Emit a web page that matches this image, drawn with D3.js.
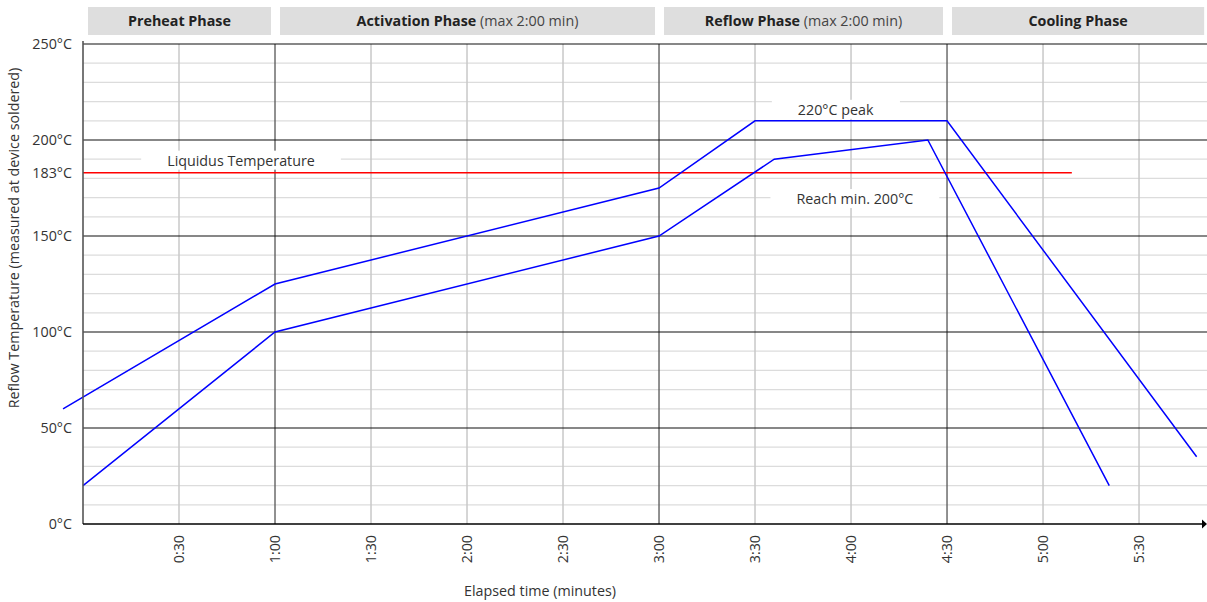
<!DOCTYPE html>
<html>
<head>
<meta charset="utf-8">
<script src="https://cdn.jsdelivr.net/npm/d3@7"></script>
<style>
  html, body { margin: 0; padding: 0; background: #fff; }
  svg { display: block; font-family: "Open Sans", "Noto Sans", sans-serif; }
</style>
</head>
<body>
<svg id="chart" width="1207" height="602"></svg>
<script>
// ---- data (time in minutes, temperature in °C) ----
const upperTimes = [-0.104, 1, 3, 3.5, 4.5, 5.8];
const upperTemps = [60, 125, 175, 210, 210, 35];
const lowerTimes = [0, 1, 3, 3.6, 4.4, 5.345];
const lowerTemps = [20, 100, 150, 190, 200, 20];

const liquidusTemp = 183;
const liquidusEnd = 5.15;

const phaseNames = ["Preheat Phase", "Activation Phase", "Reflow Phase", "Cooling Phase"];
const phaseNotes = ["", " (max 2:00 min)", " (max 2:00 min)", ""];
const phaseStarts = [0, 1, 3, 4.5];
const phaseEnds = [1, 3, 4.5, 5.86];

const xTickValues = [0.5, 1, 1.5, 2, 2.5, 3, 3.5, 4, 4.5, 5, 5.5];
const xTickLabels = ["0:30", "1:00", "1:30", "2:00", "2:30", "3:00", "3:30", "4:00", "4:30", "5:00", "5:30"];
const darkTimes = [1, 3, 4.5];
const yTickValues = [0, 50, 100, 150, 183, 200, 250];
const yTickLabels = ["0°C", "50°C", "100°C", "150°C", "183°C", "200°C", "250°C"];
const majorTemps = [50, 100, 150, 200, 250];
const minorTemps = d3.range(10, 250, 10).filter(v => v % 50 !== 0);

const annotations = [
  { text: "220°C peak", t: 3.92, temp: 216 },
  { text: "Reach min. 200°C", t: 4.02, temp: 169.5 },
  { text: "Liquidus Temperature", t: 0.823, temp: 189.5 }
];

// ---- layout ----
const svg = d3.select("#chart");
const mLeft = 83, mRight = 1207, mTop = 44, mBottom = 524;
const x = d3.scaleLinear().domain([0, 5.854]).range([mLeft, mRight]);
const y = d3.scaleLinear().domain([0, 250]).range([mBottom, mTop]);
const textColor = "#333";
const fs = 14.3;

// phase header boxes
const ph = svg.append("g");
phaseNames.forEach((name, i) => {
  const x0 = x(phaseStarts[i]) + 5;
  const x1 = Math.min(x(phaseEnds[i]) - 4, 1207);
  ph.append("rect").attr("x", x0).attr("y", 7).attr("width", x1 - x0).attr("height", 28)
    .attr("fill", "#dedede");
  const t = ph.append("text").attr("x", (x0 + x1) / 2).attr("y", 26)
    .attr("text-anchor", "middle").attr("font-size", fs).attr("fill", "#222");
  t.append("tspan").attr("font-weight", "bold").text(name);
  if (phaseNotes[i]) t.append("tspan").attr("font-weight", "normal").attr("fill", "#444").text(phaseNotes[i]);
});

// grid
const grid = svg.append("g");
grid.selectAll(".minor").data(minorTemps).enter().append("line")
  .attr("x1", mLeft).attr("x2", mRight).attr("y1", d => y(d)).attr("y2", d => y(d))
  .attr("stroke", "#dcdcdc").attr("stroke-width", 1.3);
grid.selectAll(".vlight").data(xTickValues.filter(v => !darkTimes.includes(v))).enter().append("line")
  .attr("x1", d => x(d)).attr("x2", d => x(d)).attr("y1", mTop).attr("y2", mBottom)
  .attr("stroke", "#c8c8c8").attr("stroke-width", 1.5);
grid.selectAll(".vdark").data(darkTimes).enter().append("line")
  .attr("x1", d => x(d)).attr("x2", d => x(d)).attr("y1", mTop).attr("y2", mBottom)
  .attr("stroke", "#555").attr("stroke-width", 1.3);
grid.selectAll(".major").data(majorTemps).enter().append("line")
  .attr("x1", mLeft).attr("x2", mRight).attr("y1", d => y(d)).attr("y2", d => y(d))
  .attr("stroke", "#111").attr("stroke-width", 1.2);

// annotation boxes (white background)
const ann = svg.append("g");
annotations.forEach(a => {
  const t = ann.append("text").attr("x", x(a.t)).attr("y", y(a.temp))
    .attr("text-anchor", "middle").attr("dominant-baseline", "central")
    .attr("font-size", fs).attr("fill", textColor).text(a.text);
  const bb = t.node().getBBox();
  ann.insert("rect", "text").attr("x", bb.x - 26).attr("y", bb.y)
    .attr("width", bb.width + 52).attr("height", bb.height).attr("fill", "#fff");
});

// liquidus line
svg.append("line").attr("x1", x(0)).attr("x2", x(liquidusEnd))
  .attr("y1", y(liquidusTemp)).attr("y2", y(liquidusTemp))
  .attr("stroke", "#ff0000").attr("stroke-width", 1.5);

// profile lines
const line = d3.line().x(d => x(d[0])).y(d => y(d[1]));
[[upperTimes, upperTemps], [lowerTimes, lowerTemps]].forEach(([ts, vs]) => {
  svg.append("path").datum(ts.map((t, i) => [t, vs[i]])).attr("d", line)
    .attr("fill", "none").attr("stroke", "#0000ff").attr("stroke-width", 1.5)
    .attr("stroke-linejoin", "miter");
});

// axes
svg.append("line").attr("x1", mLeft).attr("x2", mLeft).attr("y1", mTop - 3).attr("y2", mBottom)
  .attr("stroke", "#555").attr("stroke-width", 1.6);
svg.append("line").attr("x1", mLeft).attr("x2", 1203).attr("y1", mBottom).attr("y2", mBottom)
  .attr("stroke", "#000").attr("stroke-width", 1.5);
svg.append("path").attr("d", `M1202,${mBottom - 4.5} L1207,${mBottom} L1202,${mBottom + 4.5} Z`).attr("fill", "#000");

// y tick labels
const yAxis = d3.axisLeft(y).tickValues(yTickValues).tickSize(0).tickPadding(11)
  .tickFormat((d, i) => yTickLabels[i]);
const gy = svg.append("g").attr("transform", `translate(${mLeft},0)`).call(yAxis);
gy.select(".domain").remove();
gy.selectAll("text").attr("font-size", fs).attr("fill", textColor).attr("font-family", "Open Sans, Noto Sans, sans-serif");

// x tick labels (rotated)
const xAxis = d3.axisBottom(x).tickValues(xTickValues).tickSize(0)
  .tickFormat((d, i) => xTickLabels[i]);
const gx = svg.append("g").attr("transform", `translate(0,${mBottom})`).call(xAxis);
gx.select(".domain").remove();
gx.selectAll("text").attr("font-size", fs).attr("fill", textColor)
  .attr("font-family", "Open Sans, Noto Sans, sans-serif")
  .attr("text-anchor", "end").attr("dy", null).attr("y", 0)
  .attr("transform", "translate(-1,11) rotate(-90)")
  .attr("dominant-baseline", "central").attr("x", 0);

// axis titles
svg.append("text").attr("x", 540).attr("y", 596).attr("text-anchor", "middle")
  .attr("font-size", fs).attr("fill", textColor).text("Elapsed time (minutes)");
svg.append("text").attr("transform", "translate(19,238) rotate(-90)").attr("text-anchor", "middle")
  .attr("font-size", fs).attr("fill", textColor).text("Reflow Temperature (measured at device soldered)");
</script>
</body>
</html>
